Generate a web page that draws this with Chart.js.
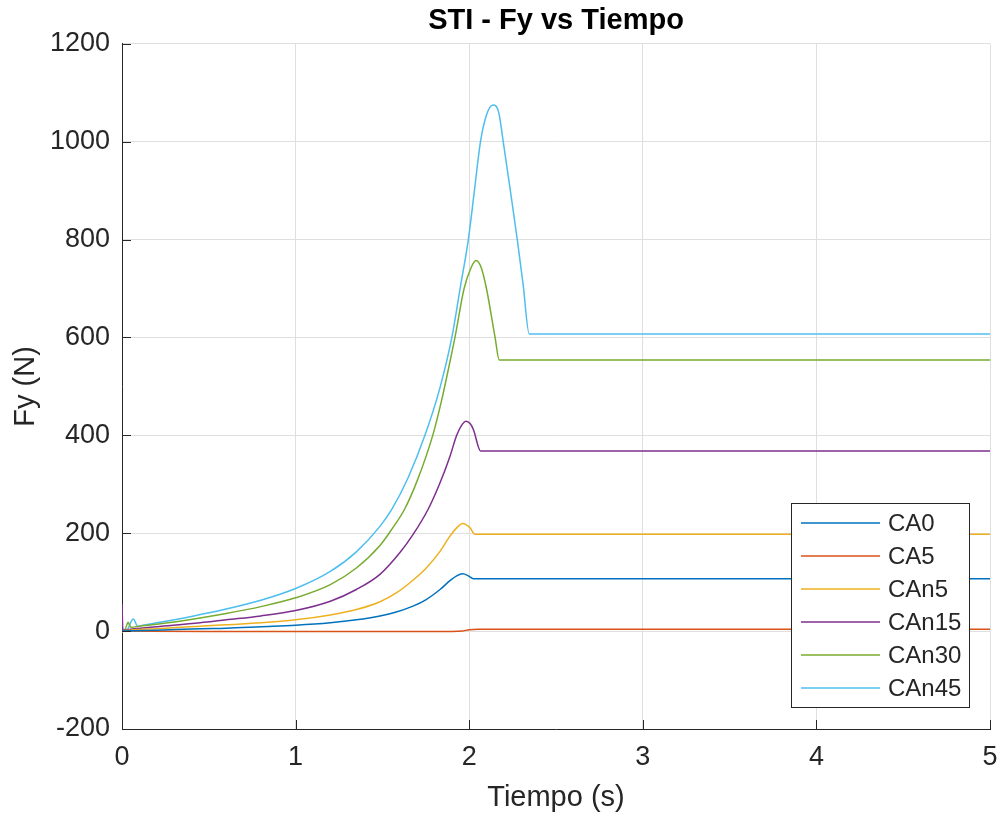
<!DOCTYPE html>
<html>
<head>
<meta charset="utf-8">
<script src="https://cdn.jsdelivr.net/npm/chart.js@4"></script>
<style>
  body { margin: 0; background: #fff; }
  #wrap { width: 1003px; height: 818px; }
</style>
</head>
<body>
<div id="wrap"><canvas id="fyChart" width="1003" height="818"></canvas></div>
<script>
// series (time in s, force in N)
const seriesNames = ["CA0", "CA5", "CAn5", "CAn15", "CAn30", "CAn45"];
const seriesColors = ["#0072BD", "#D95319", "#EDB120", "#7E2F8E", "#77AC30", "#4DBEEE"];

const tCA0 = [0, 0.2, 0.45, 0.6, 0.8, 1.0, 1.2, 1.35, 1.486, 1.58, 1.676, 1.75, 1.832, 1.889, 1.928, 1.963, 1.995, 2.024, 5];
const fCA0 = [0, 2, 5, 6, 9, 12, 17, 23, 31, 39, 51, 64, 85, 103, 113, 117, 113, 107, 107];

const tCA5 = [0, 0.5, 1.0, 1.5, 1.9, 1.96, 2.0, 2.05, 5];
const fCA5 = [0, -1, -1, -1, -1, 0, 3, 4, 4];

const tCAn5 = [0, 0.01, 0.05, 0.2, 0.45, 0.6, 0.8, 1.0, 1.2, 1.35, 1.486, 1.58, 1.676, 1.75, 1.832, 1.889, 1.928, 1.963, 2.005, 2.033, 5];
const fCAn5 = [-3, 0, 2, 5, 10, 13, 17, 23, 33, 44, 60, 78, 104, 128, 163, 194, 211, 220, 211, 198, 198];

const tCAn15 = [0, 0.005, 0.05, 0.2, 0.45, 0.6, 0.8, 1.0, 1.2, 1.35, 1.486, 1.6, 1.676, 1.765, 1.832, 1.889, 1.928, 1.955, 1.982, 2.005, 2.024, 2.066, 5];
const fCAn15 = [56, 1, 4, 9, 17, 23, 31, 42, 61, 85, 116, 160, 197, 250, 303, 357, 400, 420, 429, 424, 412, 368, 368];

const tCAn30 = [0, 0.02, 0.035, 0.05, 0.1, 0.2, 0.45, 0.6, 0.8, 1.0, 1.2, 1.35, 1.486, 1.55, 1.626, 1.7, 1.79, 1.84, 1.88, 1.918, 1.97, 2.01, 2.039, 2.07, 2.10, 2.149, 2.173, 5];
const fCAn30 = [0, 5, 18, 8, 10, 14, 27, 36, 50, 68, 95, 129, 175, 206, 248, 307, 400, 470, 535, 600, 699, 742, 757, 742, 699, 600, 554, 554];

const tCAn45 = [0, 0.03, 0.065, 0.09, 0.12, 0.2, 0.4, 0.6, 0.8, 1.0, 1.2, 1.35, 1.486, 1.553, 1.65, 1.745, 1.83, 1.9, 1.95, 1.995, 2.03, 2.065, 2.1, 2.137, 2.17, 2.196, 2.237, 2.277, 2.31, 2.346, 5];
const fCAn45 = [0, 3, 25, 10, 12, 17, 30, 45, 63, 87, 122, 162, 214, 248, 315, 400, 495, 600, 705, 800, 900, 1000, 1055, 1075, 1060, 1000, 900, 800, 710, 607, 607];

const seriesT = [tCA0, tCA5, tCAn5, tCAn15, tCAn30, tCAn45];
const seriesF = [fCA0, fCA5, fCAn5, fCAn15, fCAn30, fCAn45];

const xTicks = [0, 1, 2, 3, 4, 5];
const yTicks = [-200, 0, 200, 400, 600, 800, 1000, 1200];

const FONT = "'Liberation Sans', Arial, Helvetica, sans-serif";
const AXIS_COLOR = "#262626";

const datasets = seriesNames.map((name, i) => ({
    label: name,
    data: seriesT[i].map((t, j) => ({ x: t, y: seriesF[i][j] })),
    borderColor: seriesColors[i],
    borderWidth: 1.5,
    pointRadius: 0,
    fill: false,
    cubicInterpolationMode: "monotone"
}));

// MATLAB style: ticks pointing inside + legend box inside the axes
const matlabAxes = {
    id: "matlabAxes",
    afterDraw(chart) {
        const c = chart.ctx;
        const area = chart.chartArea;
        const xs = chart.scales.x;
        const ys = chart.scales.y;

        c.save();
        c.strokeStyle = AXIS_COLOR;
        c.lineWidth = 1;
        c.beginPath();
        yTicks.forEach(v => {
            const py = Math.round(ys.getPixelForValue(v)) + 0.5;
            c.moveTo(area.left, py);
            c.lineTo(area.left + 9, py);
        });
        xTicks.forEach(v => {
            const px = Math.round(xs.getPixelForValue(v)) + 0.5;
            c.moveTo(px, area.bottom);
            c.lineTo(px, area.bottom - 9);
        });
        c.stroke();

        // legend
        const w = 178, h = 204;
        const left = area.right - 21 - w;
        const top = area.bottom - 22 - h;
        c.fillStyle = "#fff";
        c.fillRect(left, top, w, h);
        c.strokeRect(Math.round(left) + 0.5, Math.round(top) + 0.5, w, h);

        c.font = "24px " + FONT;
        c.textBaseline = "middle";
        c.textAlign = "left";
        chart.data.datasets.forEach((ds, i) => {
            const ry = top + 20 + i * 33;
            c.strokeStyle = ds.borderColor;
            c.lineWidth = 1.5;
            c.beginPath();
            c.moveTo(left + 10, ry);
            c.lineTo(left + 89, ry);
            c.stroke();
            c.fillStyle = AXIS_COLOR;
            c.fillText(ds.label, left + 97, ry + 1);
        });
        c.restore();
    }
};

new Chart(document.getElementById("fyChart"), {
    type: "line",
    data: { datasets: datasets },
    options: {
        responsive: false,
        animation: false,
        layout: { padding: { left: 0, right: 13, top: 0, bottom: 0 } },
        plugins: {
            legend: { display: false },
            tooltip: { enabled: false },
            title: {
                display: true,
                text: "STI - Fy vs Tiempo",
                fullSize: false,
                color: "#000",
                font: { family: FONT, size: 29, weight: "bold" },
                padding: { top: 4, bottom: 5 }
            }
        },
        scales: {
            x: {
                type: "linear",
                min: 0,
                max: 5,
                afterFit(scale) {
                    scale.height = 89;
                    scale.paddingLeft = 0;
                    scale.paddingRight = 0;
                },
                afterBuildTicks(scale) { scale.ticks = xTicks.map(v => ({ value: v })); },
                ticks: {
                    color: AXIS_COLOR,
                    font: { family: FONT, size: 27 },
                    padding: 12,
                    maxRotation: 0,
                    callback: v => String(v)
                },
                grid: { color: "#dfdfdf", drawTicks: false },
                border: { color: AXIS_COLOR, width: 1 },
                title: {
                    display: true,
                    text: "Tiempo (s)",
                    color: AXIS_COLOR,
                    font: { family: FONT, size: 29 },
                    padding: { top: 0, bottom: 3 }
                }
            },
            y: {
                type: "linear",
                min: -200,
                max: 1200,
                afterFit(scale) {
                    scale.width = 122;
                    scale.paddingTop = 0;
                    scale.paddingBottom = 0;
                },
                afterBuildTicks(scale) { scale.ticks = yTicks.map(v => ({ value: v })); },
                ticks: {
                    color: AXIS_COLOR,
                    font: { family: FONT, size: 27 },
                    padding: 12,
                    callback: v => String(v)
                },
                grid: { color: "#dfdfdf", drawTicks: false },
                border: { color: AXIS_COLOR, width: 1 },
                title: {
                    display: true,
                    text: "Fy (N)",
                    color: AXIS_COLOR,
                    font: { family: FONT, size: 29 },
                    padding: { top: 9, bottom: 0 }
                }
            }
        }
    },
    plugins: [matlabAxes]
});
</script>
</body>
</html>
